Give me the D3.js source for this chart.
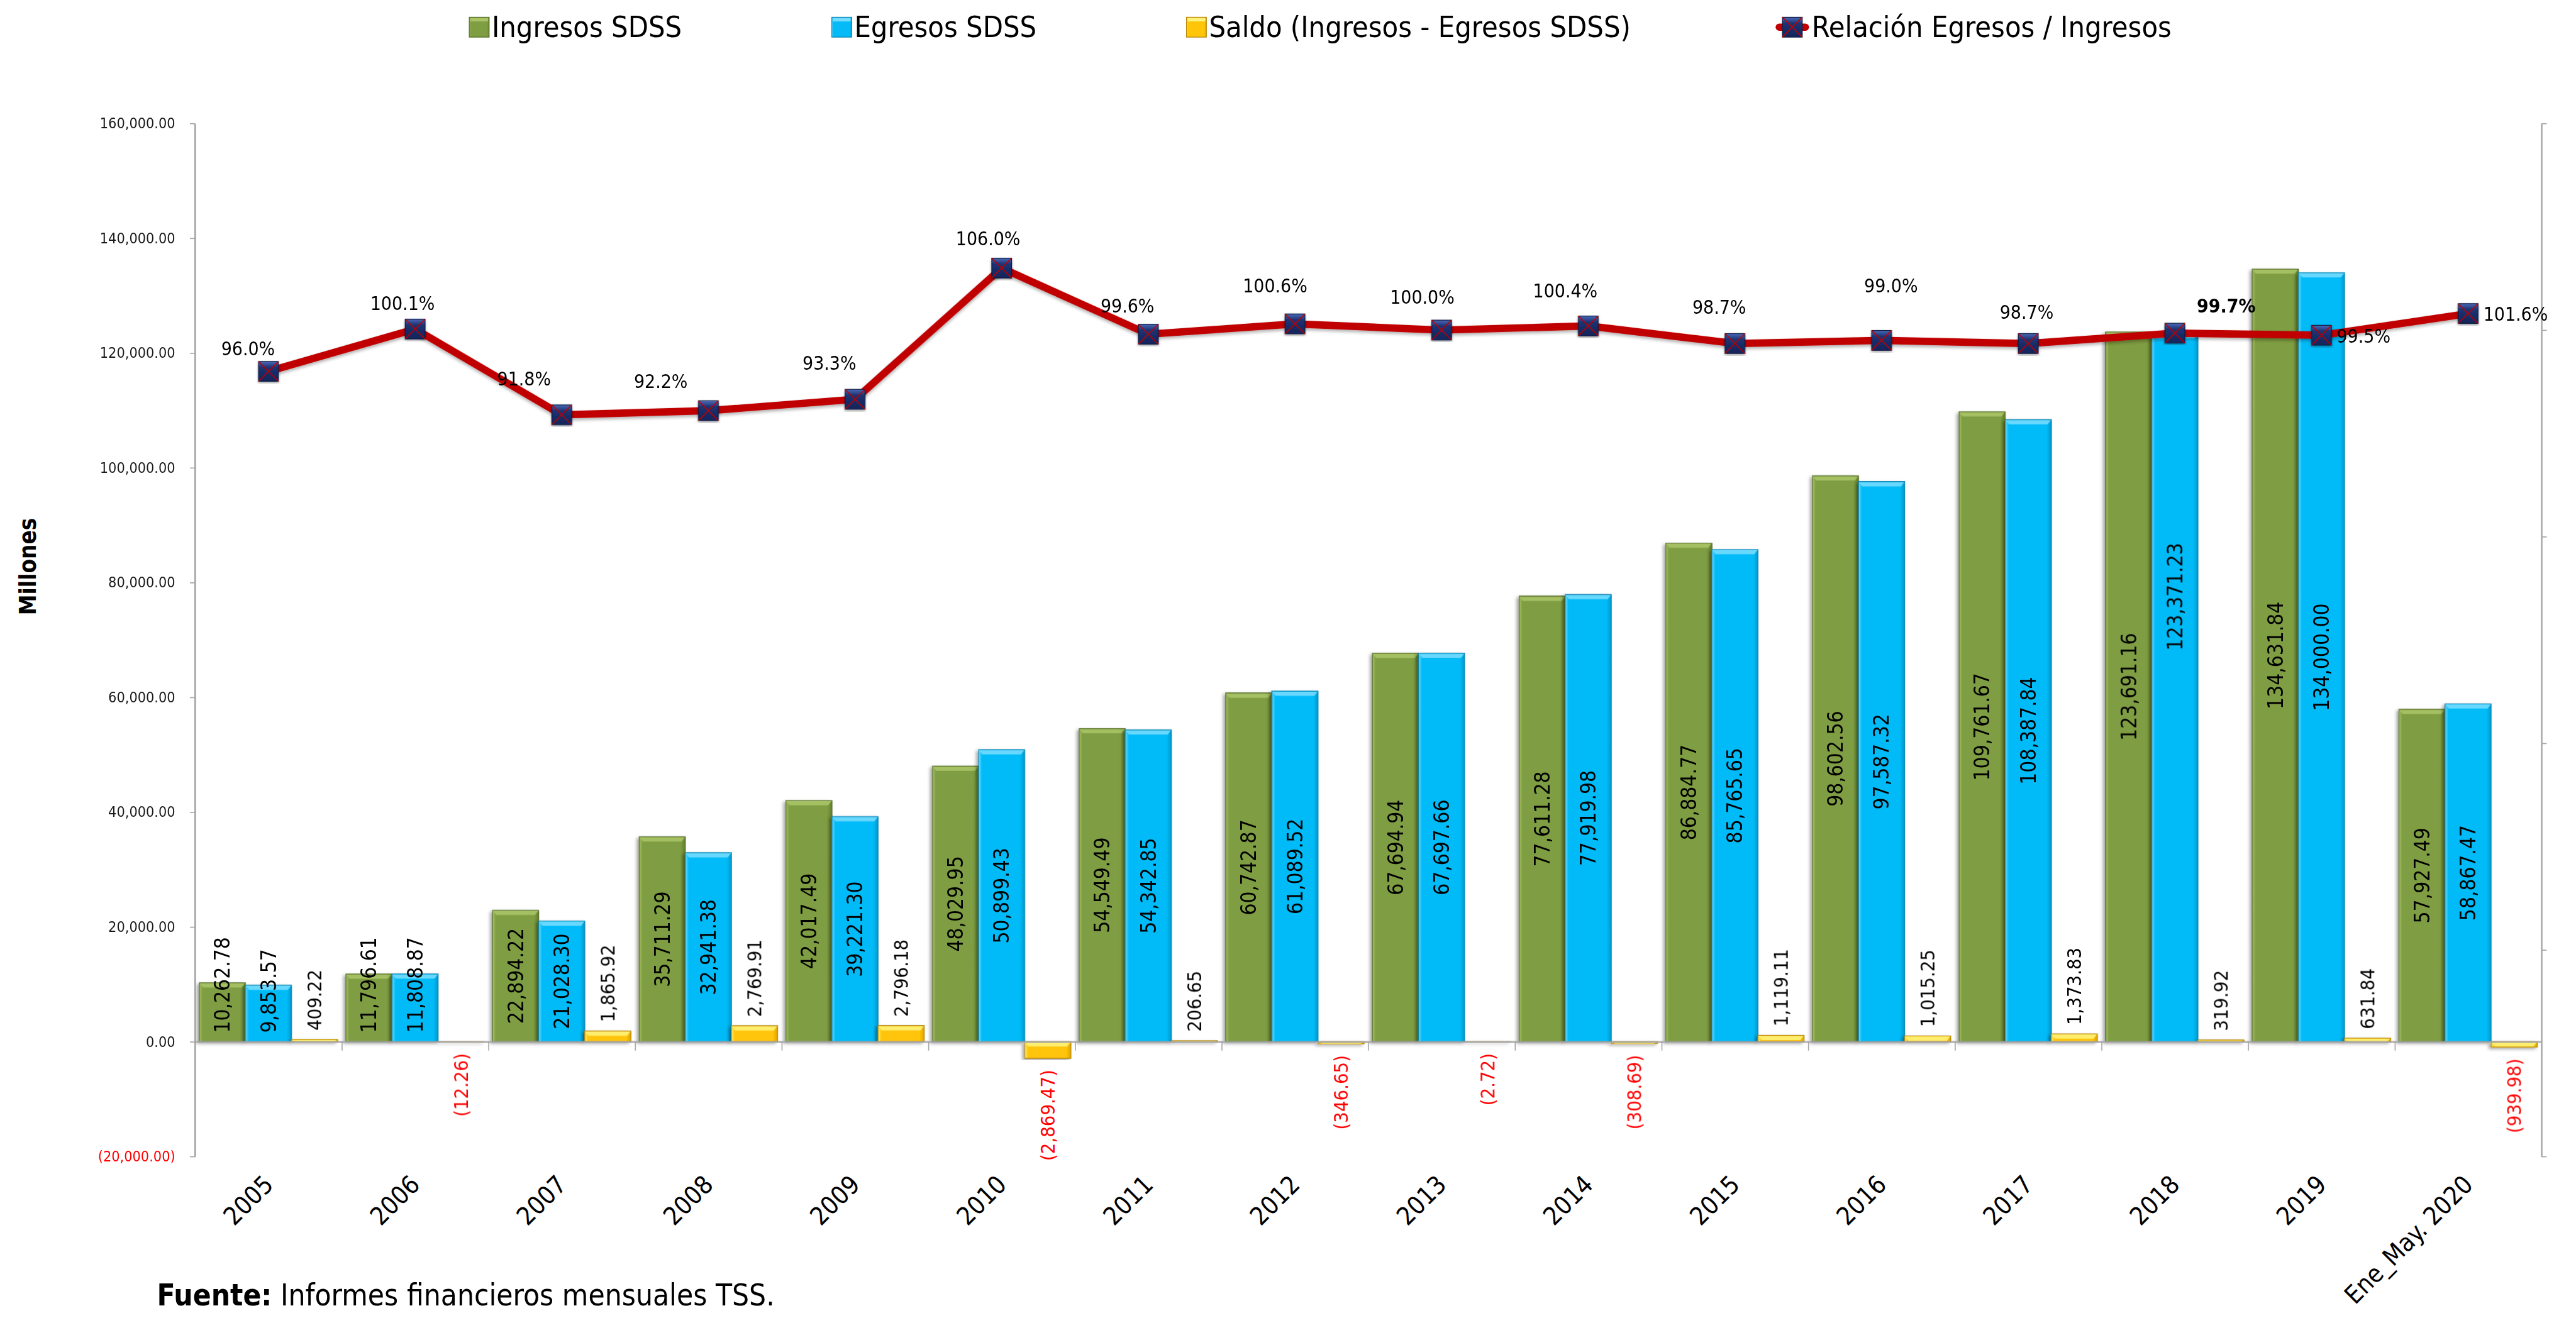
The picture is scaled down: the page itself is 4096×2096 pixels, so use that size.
<!DOCTYPE html>
<html>
<head>
<meta charset="utf-8">
<script src="https://cdn.jsdelivr.net/npm/d3@7"></script>
<style>
  html, body { margin: 0; padding: 0; background: #fff; overflow: hidden; }
  svg { display: block; }
</style>
</head>
<body>
<div id="chart"></div>
<script>
// datos (millones)
const categories = ["2005", "2006", "2007", "2008", "2009", "2010", "2011", "2012",
  "2013", "2014", "2015", "2016", "2017", "2018", "2019", "Ene_May. 2020"];
const ingresos = [10262.78, 11796.61, 22894.22, 35711.29, 42017.49, 48029.95, 54549.49, 60742.87,
  67694.94, 77611.28, 86884.77, 98602.56, 109761.67, 123691.16, 134631.84, 57927.49];
const egresos = [9853.57, 11808.87, 21028.30, 32941.38, 39221.30, 50899.43, 54342.85, 61089.52,
  67697.66, 77919.98, 85765.65, 97587.32, 108387.84, 123371.23, 134000.00, 58867.47];
const saldo = [409.22, -12.26, 1865.92, 2769.91, 2796.18, -2869.47, 206.65, -346.65,
  -2.72, -308.69, 1119.11, 1015.25, 1373.83, 319.92, 631.84, -939.98];
const relacion = [0.960, 1.001, 0.918, 0.922, 0.933, 1.060, 0.996, 1.006,
  1.000, 1.004, 0.987, 0.990, 0.987, 0.997, 0.995, 1.016];
const leftTicks = [-20000, 0, 20000, 40000, 60000, 80000, 100000, 120000, 140000, 160000];
const rightTicks = [0.2, 0.4, 0.6, 0.8, 1.0, 1.2];
const seriesNames = ["Ingresos SDSS", "Egresos SDSS", "Saldo (Ingresos - Egresos SDSS)", "Relación Egresos / Ingresos"];

// todo se dibuja en coordenadas del original (4924x2520) y se escala
const K = 4096 / 4924;
const FONT = '"DejaVu Sans Condensed", "Liberation Sans Narrow", sans-serif';

const x0 = 373, x1 = 4858, yTop = 236, yBot = 2211;

const svg = d3.select("#chart").append("svg")
  .attr("width", 4096)
  .attr("height", 2096)
  .style("background", "#fff");
const g = svg.append("g").attr("transform", `scale(${K})`).attr("font-family", FONT);

const x = d3.scaleBand().domain(categories).range([x0, x1]).padding(0);
const xSub = d3.scaleBand().domain([0, 1, 2]).range([0, x.bandwidth()]).paddingInner(0).paddingOuter(0.09);
const y = d3.scaleLinear().domain([-20000, 160000]).range([yBot, yTop]);
const yR = d3.scaleLinear().domain([0.2, 1.2]).range([yBot, yTop]);
const y0 = y(0);

const fmtNum = v => v < 0 ? `(${d3.format(",.2f")(-v)})` : d3.format(",.2f")(v);
const fmtPct = d3.format(".1%");

// colores de las barras (base, claro, oscuro, borde)
const palette = [
  { base: "#7f9d42", light: "#a8c466", dark: "#637f2e", edge: "#566f27" },
  { base: "#05bbf7", light: "#74dcff", dark: "#0398cc", edge: "#0a86b3" },
  { base: "#ffc508", light: "#fff27a", dark: "#e0a400", edge: "#b8870a" }
];

const defs = svg.append("defs");
palette.forEach((p, i) => {
  const lg = defs.append("linearGradient").attr("id", "bar" + i)
    .attr("x1", 0).attr("x2", 1).attr("y1", 0).attr("y2", 0);
  lg.append("stop").attr("offset", 0).attr("stop-color", p.light);
  lg.append("stop").attr("offset", 0.07).attr("stop-color", p.base);
  lg.append("stop").attr("offset", 0.9).attr("stop-color", p.base);
  lg.append("stop").attr("offset", 1).attr("stop-color", p.dark);
});
const mk = defs.append("linearGradient").attr("id", "marker")
  .attr("x1", 0).attr("x2", 0).attr("y1", 0).attr("y2", 1);
mk.append("stop").attr("offset", 0).attr("stop-color", "#4b6bb8");
mk.append("stop").attr("offset", 0.3).attr("stop-color", "#1d3273");
mk.append("stop").attr("offset", 1).attr("stop-color", "#122459");
defs.append("filter").attr("id", "shadow")
  .attr("x", "-20%").attr("y", "-5%").attr("width", "140%").attr("height", "110%")
  .append("feDropShadow").attr("dx", -4).attr("dy", 3).attr("stdDeviation", 3)
  .attr("flood-color", "#000").attr("flood-opacity", 0.35);
defs.append("filter").attr("id", "lshadow")
  .append("feDropShadow").attr("dx", 0).attr("dy", 4).attr("stdDeviation", 3)
  .attr("flood-color", "#000").attr("flood-opacity", 0.3);

// ---- barras
const barSeries = [ingresos, egresos, saldo];
const gBars = g.append("g");
barSeries.forEach((vals, s) => {
  const p = palette[s];
  const gs = gBars.append("g").attr("filter", "url(#shadow)");
  const bar = gs.selectAll("g.bar")
    .data(vals.map((v, i) => ({ v, i })))
    .enter().append("g").attr("class", "bar");
  bar.append("rect")
    .attr("x", d => x(categories[d.i]) + xSub(s))
    .attr("y", d => Math.min(y(d.v), y0))
    .attr("width", xSub.bandwidth())
    .attr("height", d => Math.abs(y(d.v) - y0))
    .attr("fill", `url(#bar${s})`)
    .attr("stroke", p.edge)
    .attr("stroke-width", 1.5);
  // bisel superior
  bar.append("polygon")
    .attr("points", d => {
      const bx = x(categories[d.i]) + xSub(s), bw = xSub.bandwidth();
      const top = Math.min(y(d.v), y0), h = Math.min(9, Math.abs(y(d.v) - y0));
      return [[bx + 1, top + 1], [bx + bw - 1, top + 1], [bx + bw - 7, top + h], [bx + 7, top + h]].join(" ");
    })
    .attr("fill", p.light)
    .attr("opacity", 0.9);
});

// ---- ejes
const yAxis = d3.axisLeft(y).tickValues(leftTicks).tickSize(10).tickSizeOuter(0)
  .tickPadding(28).tickFormat(fmtNum);
const gy = g.append("g").attr("transform", `translate(${x0},0)`).call(yAxis)
  .attr("font-family", FONT).attr("font-size", 28);
gy.select(".domain").attr("stroke", "#a6a6a6").attr("stroke-width", 3);
gy.selectAll(".tick line").attr("stroke", "#a6a6a6").attr("stroke-width", 2);
gy.selectAll(".tick text").attr("fill", d => d < 0 ? "#ff0000" : "#1a1a1a");

const yAxisR = d3.axisRight(yR).tickValues(rightTicks).tickSize(10).tickSizeOuter(0).tickFormat("");
const gyR = g.append("g").attr("transform", `translate(${x1},0)`).call(yAxisR);
gyR.select(".domain").attr("stroke", "#a6a6a6").attr("stroke-width", 3);
gyR.selectAll(".tick line").attr("stroke", "#a6a6a6").attr("stroke-width", 2);

// línea del cero con marcas entre categorías
const idx = d3.scaleLinear().domain([0, categories.length]).range([x0, x1]);
const gx = g.append("g").attr("transform", `translate(0,${y0})`)
  .call(d3.axisBottom(idx).tickValues(d3.range(1, categories.length)).tickSize(17).tickSizeOuter(0).tickFormat(""));
gx.select(".domain").attr("stroke", "#a6a6a6").attr("stroke-width", 3);
gx.selectAll(".tick line").attr("stroke", "#a6a6a6").attr("stroke-width", 2);

// etiquetas de categoría, giradas
const gxl = g.append("g").attr("transform", `translate(0,${y0})`)
  .call(d3.axisBottom(x).tickSize(0).tickPadding(0));
gxl.select(".domain").remove();
gxl.attr("font-family", FONT).attr("font-size", 48);
gxl.selectAll(".tick text")
  .attr("y", null).attr("dy", null)
  .attr("fill", "#000")
  .attr("text-anchor", "end")
  .attr("transform", "translate(12,276) rotate(-45)");

// título eje
g.append("text")
  .attr("transform", "translate(53,1083) rotate(-90)")
  .attr("text-anchor", "middle").attr("dy", "0.35em")
  .attr("font-size", 44).attr("font-weight", "bold")
  .text("Millones");

// ---- etiquetas de barras
const gLab = g.append("g").attr("fill", "#000");
const labelShift = { "1-13": -174 };
[ingresos, egresos].forEach((vals, s) => {
  vals.forEach((v, i) => {
    const cx = x(categories[i]) + xSub(s) + xSub.bandwidth() / 2;
    const t = gLab.append("text")
      .attr("font-size", 40)
      .attr("text-anchor", "middle")
      .attr("dy", "0.35em")
      .text(fmtNum(v));
    const L = t.node().getComputedTextLength();
    let cy = (y(v) + y0) / 2;
    if (cy + L / 2 > y0 - 17) cy = y0 - 17 - L / 2;
    cy += labelShift[`${s}-${i}`] || 0;
    t.attr("transform", `translate(${cx},${cy}) rotate(-90)`);
  });
});
saldo.forEach((v, i) => {
  const cx = x(categories[i]) + xSub(2) + xSub.bandwidth() / 2;
  const neg = v < 0;
  gLab.append("text")
    .attr("font-size", 37)
    .attr("text-anchor", neg ? "end" : "start")
    .attr("dy", "0.35em")
    .attr("fill", neg ? "#ff0000" : "#000")
    .attr("transform", `translate(${cx},${neg ? y(v) + 22 : y(v) - 17}) rotate(-90)`)
    .text(fmtNum(v));
});

// ---- línea de relación
const cxOf = i => x(categories[i]) + x.bandwidth() / 2;
const line = d3.line().x((d, i) => cxOf(i)).y(d => yR(d));
const gLine = g.append("g");
gLine.append("path")
  .datum(relacion)
  .attr("d", line)
  .attr("fill", "none")
  .attr("stroke", "#c00000")
  .attr("stroke-width", 14)
  .attr("stroke-linejoin", "round")
  .attr("filter", "url(#lshadow)");

const ms = 38;
const mark = gLine.selectAll("g.mk").data(relacion).enter().append("g")
  .attr("class", "mk")
  .attr("transform", (d, i) => `translate(${cxOf(i)},${yR(d)})`)
  .attr("filter", "url(#lshadow)");
mark.append("rect")
  .attr("x", -ms / 2).attr("y", -ms / 2).attr("width", ms).attr("height", ms)
  .attr("fill", "url(#marker)").attr("stroke", "#0d1a44").attr("stroke-width", 1.5);
mark.append("path")
  .attr("d", `M${-ms / 2},${-ms / 2}L${ms / 2},${ms / 2}M${ms / 2},${-ms / 2}L${-ms / 2},${ms / 2}`)
  .attr("stroke", "#c00000").attr("stroke-width", 2);

// posiciones de las etiquetas de porcentaje (ajustadas a mano en el original)
const pctLabelPos = [[-39, -31], [-24, -36], [-72, -56], [-91, -43], [-49, -56], [-26, -44], [-40, -42], [-38, -60],
  [-37, -50], [-44, -54], [-30, -57], [18, -92], [-3, -47], [98, -39], [29, 14, "start"], [29, 14, "start"]];
g.append("g").selectAll("text").data(relacion).enter().append("text")
  .attr("x", (d, i) => cxOf(i) + pctLabelPos[i][0])
  .attr("y", (d, i) => yR(d) + pctLabelPos[i][1])
  .attr("text-anchor", (d, i) => pctLabelPos[i][2] || "middle")
  .attr("font-size", 36)
  .attr("font-weight", (d, i) => i === 13 ? "bold" : null)
  .attr("fill", "#000")
  .text(d => fmtPct(d));

// ---- leyenda
const legend = g.append("g").attr("font-size", 56);
const legX = [897, 1590, 2268, 3407];
[0, 1, 2].forEach(s => {
  const p = palette[s];
  legend.append("rect")
    .attr("x", legX[s]).attr("y", 33).attr("width", 38).attr("height", 38)
    .attr("fill", `url(#bar${s})`).attr("stroke", p.edge).attr("stroke-width", 1.5);
  legend.append("rect")
    .attr("x", legX[s] + 2).attr("y", 34).attr("width", 34).attr("height", 7)
    .attr("fill", p.light);
  legend.append("text").attr("x", legX[s] + 43).attr("y", 71).text(seriesNames[s]);
});
legend.append("line")
  .attr("x1", legX[3] - 6).attr("x2", legX[3] + 44).attr("y1", 52).attr("y2", 52)
  .attr("stroke", "#c00000").attr("stroke-width", 14).attr("stroke-linecap", "round");
legend.append("rect")
  .attr("x", legX[3]).attr("y", 33).attr("width", 38).attr("height", 38)
  .attr("fill", "url(#marker)").attr("stroke", "#0d1a44").attr("stroke-width", 1.5);
legend.append("path")
  .attr("d", `M${legX[3]},33L${legX[3] + 38},71M${legX[3] + 38},33L${legX[3]},71`)
  .attr("stroke", "#c00000").attr("stroke-width", 2);
legend.append("text").attr("x", legX[3] + 56).attr("y", 71).text(seriesNames[3]);

// ---- fuente
const foot = g.append("text").attr("x", 300).attr("y", 2496).attr("font-size", 57).attr("fill", "#000");
foot.append("tspan").attr("font-weight", "bold").text("Fuente:");
foot.append("tspan").text(" Informes financieros mensuales TSS.");
</script>
</body>
</html>
